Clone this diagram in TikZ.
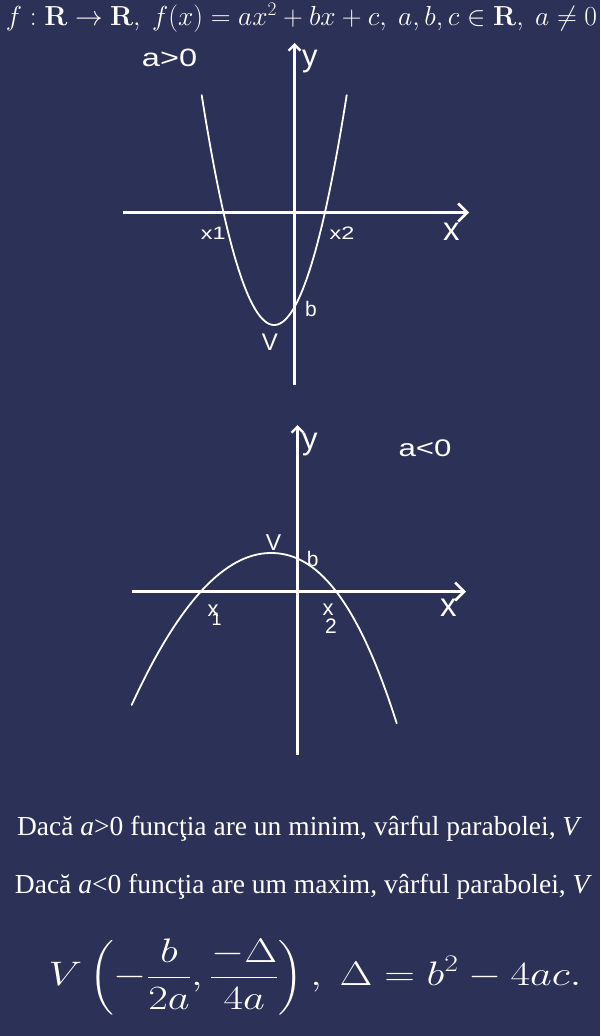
\RequirePackage{fix-cm}
\documentclass[tikz,border=0pt]{standalone}
\usepackage{amsmath}
\usepackage[no-math]{fontspec}
\setmainfont{Liberation Serif}
\newfontfamily\lsans{Liberation Sans}
\usetikzlibrary{arrows.meta}
\definecolor{bg}{RGB}{44,49,87}
\begin{document}
\begin{tikzpicture}[x=1pt,y=-1pt,
  axisline/.style={white,line width=2.8pt},
  xarrow/.style={-{Straight Barb[length=9pt,width=18pt,line width=2.6pt]}},
  yarrow/.style={-{Straight Barb[length=6pt,width=12pt,line width=2.4pt]}},
  curve/.style={white,line width=1.8pt,line cap=round,line join=round},
  lbl/.style={text=white,inner sep=0pt,anchor=base west,font=\lsans\fontsize{#1}{#1}\selectfont},
  lbl/.default=22,
  wide/.style={xscale=1.3},
  txt/.style={text=white,inner sep=0pt,font=\fontsize{#1}{#1}\selectfont},
  txt/.default=24]
\fill[bg] (0,0) rectangle (600,1036);
\useasboundingbox (0,0) rectangle (600,1036);

% title formula
\node[txt=27.5,anchor=base] (title) at (301.5,25.5) {$f:\mathbf{R}\to\mathbf{R},\ f(x)=ax^2+bx+c,\ a,b,c\in\mathbf{R},\ a\neq 0$};

% ---------- top graph (a>0)
\coordinate (tXl) at (123,212.5);
\coordinate (tXr) at (469,212.5);
\coordinate (tYb) at (294.5,385);
\coordinate (tYt) at (294.5,43);
\draw[axisline,xarrow] (tXl) -- (tXr);
\draw[axisline,yarrow] (tYb) -- (tYt);
\draw[curve] plot[domain=201.7:346.7,samples=80] (\x,{325-0.04373*(\x-274.2)*(\x-274.2)});
\node[lbl=25,wide] (tA) at (141.7,66) {a>0};
\node[lbl=31] (tY) at (302,66) {y};
\node[lbl=33] (tX) at (443,240) {x};
\node[lbl=18,wide] (tX1) at (200.7,239.3) {x1};
\node[lbl=18,wide] (tX2) at (329.3,239.3) {x2};
\node[lbl=21] (tB) at (305,316.7) {b};
\node[lbl=24] (tV) at (261.7,350) {V};

% ---------- bottom graph (a<0)
\coordinate (bXl) at (131.7,591.5);
\coordinate (bXr) at (466,591.5);
\coordinate (bYb) at (297.5,755);
\coordinate (bYt) at (297.5,425);
\draw[axisline,xarrow] (bXl) -- (bXr);
\draw[axisline,yarrow] (bYb) -- (bYt);
\draw[curve] plot[domain=131.7:271,samples=60] (\x,{553+78.3*((\x-271)/100)*((\x-271)/100)})
  -- plot[domain=271:396.7,samples=60] (\x,{553+72.21*((\x-271)/100)*((\x-271)/100)+28.3*((\x-271)/100)*((\x-271)/100)*((\x-271)/100)});
\node[lbl=31] (bY) at (302,449) {y};
\node[lbl=24,wide] (bA) at (398.3,456.7) {a<0};
\node[lbl=23] (bV) at (265.7,550) {V};
\node[lbl=21] (bB) at (306.7,566.7) {b};
\node[lbl=33] (bX) at (440,616.7) {x};
\node[lbl=22] (bX1) at (207.5,616.7) {x};
\node[lbl=18] (bS1) at (211.5,625) {1};
\node[lbl=22] (bX2) at (322.5,615) {x};
\node[lbl=21] (bS2) at (325,633.3) {2};

% ---------- text lines
\node[txt=27.5,anchor=base] (l1) at (299.5,835) {Dacă \textit{a}>0 funcţia are un minim, vârful parabolei, \textit{V}};
\node[txt=27.5,anchor=base] (l2) at (303.5,893) {Dacă \textit{a}<0 funcţia are um maxim, vârful parabolei, \textit{V}};

% ---------- vertex formula
\node[txt=34,xscale=1.25] (vf) at (315,977) {$\displaystyle V\left(-\frac{b}{2a},\frac{-\Delta}{4a}\right),\ \Delta=b^2-4ac.$};
\end{tikzpicture}
\end{document}
